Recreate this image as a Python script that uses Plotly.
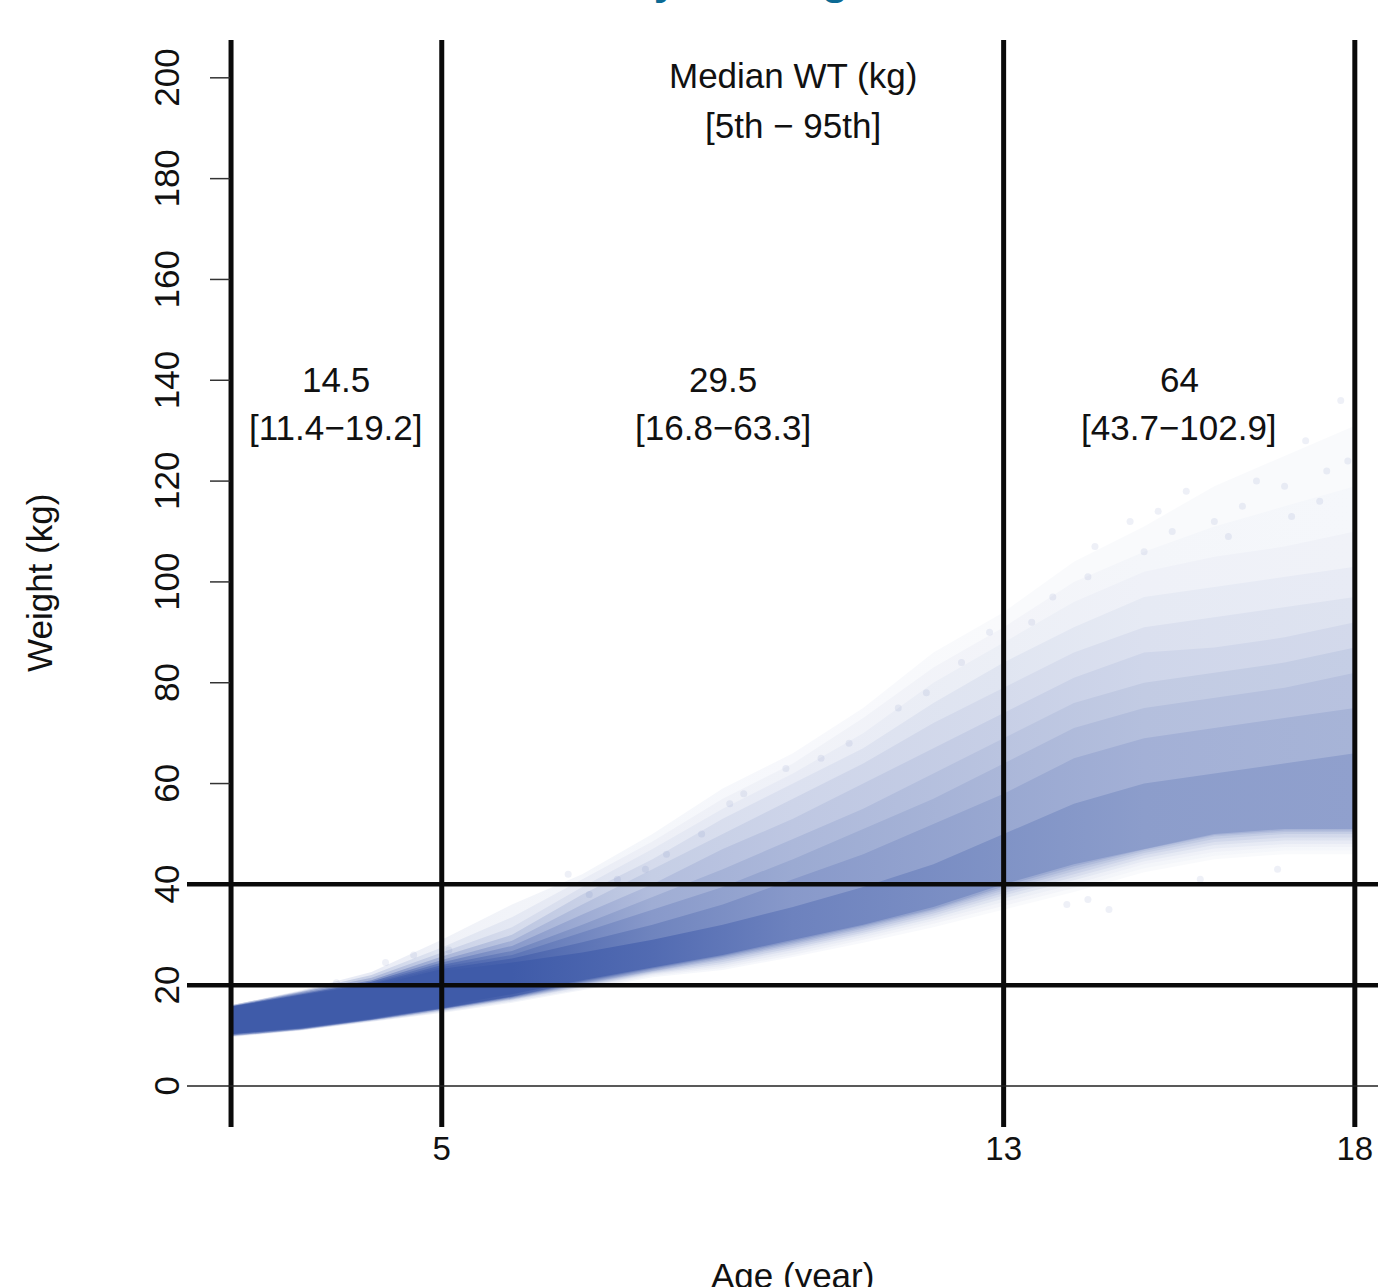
import plotly.graph_objects as go

ages = [2, 3, 4, 5, 6, 7, 8, 9, 10, 11, 12, 13, 14, 15, 16, 17, 18]

# Envelopes of the simulated cloud (kg), outer to inner
upper_bands = [
    [16, 19, 22.6, 29, 36, 42, 50, 59, 66, 75, 86, 94, 104, 111, 119, 125, 131],
    [16, 18.8, 22, 27.5, 33.5, 41, 48.5, 57, 64, 73, 83, 91, 100, 106, 111, 115, 119],
    [15.8, 18.6, 21.5, 26.5, 31.5, 39.5, 47, 55, 62, 70, 80, 88, 96, 102, 105, 107, 110],
    [15.8, 18.4, 21, 25.7, 30, 38, 45, 53, 60, 67, 76, 84, 91, 97, 99, 101, 103],
    [15.7, 18.2, 20.7, 25, 28.8, 36, 43, 50, 57, 64, 72, 79, 86, 91, 93, 95, 97],
    [15.7, 18.1, 20.4, 24.5, 27.8, 34, 40, 47, 53, 60, 67, 74, 81, 86, 87, 89, 92],
    [15.6, 18, 20.2, 24, 26.8, 32, 37.5, 43, 49, 55, 62, 69, 76, 80, 82, 84, 87],
    [15.6, 17.9, 20, 23.6, 26, 30.5, 35, 39.5, 45, 51, 57, 64, 71, 75, 77, 79, 82],
    [15.5, 17.8, 19.8, 23.2, 25.3, 28.5, 32, 36, 41, 46, 52, 58, 65, 69, 71, 73, 75],
    [15.4, 17.7, 19.6, 22.8, 24.5, 26.5, 29, 32, 35.5, 39.5, 44, 50, 56, 60, 62, 64, 66],
]
lower_bands = [
    [9.7, 11, 12.7, 14.5, 16.5, 19, 21.6, 23, 25.6, 28.4, 31.5, 35, 38.5, 42.4, 45, 46, 46],
    [9.85, 11.1, 12.85, 14.7, 16.75, 19.25, 21.85, 23.4, 26, 29, 32.2, 35.8, 39.3, 43.2, 45.7, 46.7, 46.7],
    [10, 11.2, 13, 14.9, 17, 19.5, 22.1, 23.8, 26.5, 29.5, 32.8, 36.5, 40, 44, 46.4, 47.4, 47.4],
    [10.15, 11.3, 13.1, 15.05, 17.15, 19.75, 22.3, 24.2, 27, 30, 33.3, 37.2, 40.8, 44.6, 47.1, 48, 48],
    [10.3, 11.4, 13.2, 15.2, 17.3, 20, 22.5, 24.6, 27.4, 30.4, 33.8, 37.8, 41.4, 45.2, 47.8, 48.7, 48.7],
    [10.35, 11.5, 13.3, 15.3, 17.45, 20.2, 22.7, 25, 27.8, 30.8, 34.2, 38.3, 42, 45.8, 48.4, 49.3, 49.3],
    [10.4, 11.6, 13.4, 15.4, 17.6, 20.4, 22.9, 25.3, 28.1, 31.2, 34.6, 38.8, 42.6, 46.2, 49, 50, 50],
    [10.45, 11.65, 13.45, 15.45, 17.7, 20.6, 23.1, 25.6, 28.4, 31.5, 34.9, 39.2, 43.1, 46.6, 49.5, 50.4, 50.4],
    [10.5, 11.7, 13.5, 15.5, 17.75, 20.8, 23.3, 25.8, 28.7, 31.8, 35.1, 39.6, 43.6, 46.9, 49.8, 50.7, 50.7],
    [10.6, 11.9, 13.7, 15.8, 18.2, 21, 23.5, 26, 29, 32, 35.5, 40, 44, 47, 50, 51, 51],
]
# Ink strength of each band at these ages
ink_ages = [2, 4, 5, 6, 8, 10, 13, 15, 18]
band_ink = [
    [.12, .12, .08, .07, .05, .04, .03, .03, .03],
    [.40, .28, .16, .14, .09, .08, .065, .055, .05],
    [.70, .45, .28, .22, .14, .12, .10, .085, .08],
    [.85, .68, .45, .35, .22, .18, .16, .13, .12],
    [1.0, .90, .62, .48, .30, .26, .22, .19, .17],
    [1.0, .95, .78, .62, .40, .34, .29, .25, .23],
    [1.0, 1.0, .90, .75, .50, .43, .36, .32, .30],
    [1.0, 1.0, .95, .85, .62, .52, .44, .39, .37],
    [1.0, 1.0, 1.0, .95, .75, .62, .53, .48, .46],
    [1.0, 1.0, 1.0, 1.0, .90, .76, .66, .60, .58],
]

# Stray points outside the dense cloud (age, kg)
stray_age = [14.3, 14.8, 15.2, 15.6, 16.0, 16.2, 16.6, 17.0, 17.3, 17.6, 17.8, 17.9, 14.2, 13.7, 13.4,
             15.0, 15.4, 16.4, 17.1, 17.5, 12.8, 12.4, 11.9, 11.5, 10.8, 10.4, 9.9, 9.3, 9.1, 8.7,
             8.2, 7.9, 7.5, 7.1, 6.8, 5.1, 4.6, 4.2, 3.5, 13.9, 14.2, 14.5, 15.8, 16.9]
stray_wt = [107, 112, 114, 118, 112, 109, 120, 119, 128, 122, 136, 124, 101, 97, 92,
            106, 110, 115, 113, 116, 90, 84, 78, 75, 68, 65, 63, 58, 56, 50,
            46, 43, 41, 38, 42, 27, 26, 24.5, 20.5, 36, 37, 35, 41, 43]

age_lines = [2, 5, 13, 18]
age_tick_vals = [5, 13, 18]
weight_ticks = [0, 20, 40, 60, 80, 100, 120, 140, 160, 180, 200]
weight_lines = [20, 40]
short_ticks = [60, 80, 100, 120, 140, 160, 180, 200]

header = ["Median WT (kg)", "[5th \u2212 95th]"]
group_centres = [3.5, 9, 15.5]
group_medians = ["14.5", "29.5", "64"]
group_ranges = ["[11.4\u221219.2]", "[16.8\u221263.3]", "[43.7\u2212102.9]"]

INK = (63, 91, 169)
FONT = "Liberation Sans, Arial, sans-serif"
TEXT = "#111111"
SIZE = 35


def blend(a):
    return "rgb(%d,%d,%d)" % tuple(round(255 + (c - 255) * a) for c in INK)


fig = go.Figure()
for up, lo, ink in zip(upper_bands, lower_bands, band_ink):
    stops = [[(a - ages[0]) / (ages[-1] - ages[0]), blend(v)] for a, v in zip(ink_ages, ink)]
    fig.add_trace(go.Scatter(
        x=ages + ages[::-1], y=up + lo[::-1], mode="lines",
        line=dict(width=0), fill="toself",
        fillgradient=dict(type="horizontal", colorscale=stops),
        hoverinfo="skip", showlegend=False))

fig.add_trace(go.Scatter(
    x=stray_age, y=stray_wt, mode="markers",
    marker=dict(size=7, color="rgba(63,91,169,0.09)", line=dict(width=0)),
    hoverinfo="skip", showlegend=False))

shapes = []
for a in age_lines:
    shapes.append(dict(type="line", xref="x", yref="paper", x0=a, x1=a, y0=0, y1=1,
                       line=dict(color="#0a0a0a", width=5)))
for w in weight_lines:
    shapes.append(dict(type="line", xref="paper", yref="y", x0=0, x1=1, y0=w, y1=w,
                       line=dict(color="#0a0a0a", width=4.5)))
shapes.append(dict(type="line", xref="paper", yref="y", x0=0, x1=1, y0=0, y1=0,
                   line=dict(color="#222222", width=1.5)))
for w in short_ticks:
    shapes.append(dict(type="line", xref="paper", yref="y", x0=0.0193, x1=0.036, y0=w, y1=w,
                       line=dict(color="#333333", width=1.5)))

ann = []
for i, t in enumerate(header):
    ann.append(dict(x=10, y=[200, 190][i], text=t, yshift=2.5))
for c, m, r in zip(group_centres, group_medians, group_ranges):
    ann.append(dict(x=c, y=140, text=m, yshift=1))
    ann.append(dict(x=c, y=130.5, text=r, yshift=1))
for a in ann:
    a.update(xref="x", yref="y", showarrow=False, xanchor="center", yanchor="middle",
             font=dict(family=FONT, size=SIZE, color=TEXT))
# page title above the crop: only its descenders reach the picture
ann.append(dict(xref="paper", yref="paper", x=0.3082, y=1, yshift=35, xanchor="left", yanchor="bottom",
                showarrow=False, text="<b>Study of Weight</b>",
                font=dict(family=FONT, size=44, color="#0b6a94")))
ann.append(dict(xref="x", yref="paper", x=10, y=0, yshift=-148, xanchor="center", yanchor="middle",
                showarrow=False, text="Age (year)", font=dict(family=FONT, size=SIZE, color=TEXT)))
ann.append(dict(xref="paper", yref="paper", x=0, xshift=-147, y=0.5005, xanchor="center", yanchor="middle",
                showarrow=False, text="Weight (kg)", textangle=-90,
                font=dict(family=FONT, size=SIZE, color=TEXT)))

fig.update_layout(
    width=1378, height=1287, autosize=False,
    margin=dict(l=187, r=0, t=40, b=160, pad=0),
    paper_bgcolor="white", plot_bgcolor="white",
    shapes=shapes, annotations=ann, showlegend=False,
    xaxis=dict(range=[1.373, 18.33], tickmode="array", tickvals=age_tick_vals,
               ticktext=[str(v) for v in age_tick_vals], showgrid=False, zeroline=False,
               showline=False, ticks="", ticklabelstandoff=-1,
               tickfont=dict(family=FONT, size=33, color=TEXT)),
    yaxis=dict(range=[-8.13, 207.5], tickmode="array", tickvals=weight_ticks,
               ticktext=[str(v) for v in weight_ticks], tickangle=-90, showgrid=False,
               zeroline=False, showline=False, ticks="", ticklabelshift=5,
               tickfont=dict(family=FONT, size=SIZE, color=TEXT)),
)

fig.write_html("out.html", config=dict(displayModeBar=False),
               post_script="document.body.style.margin='0';document.body.style.overflow='hidden';")
